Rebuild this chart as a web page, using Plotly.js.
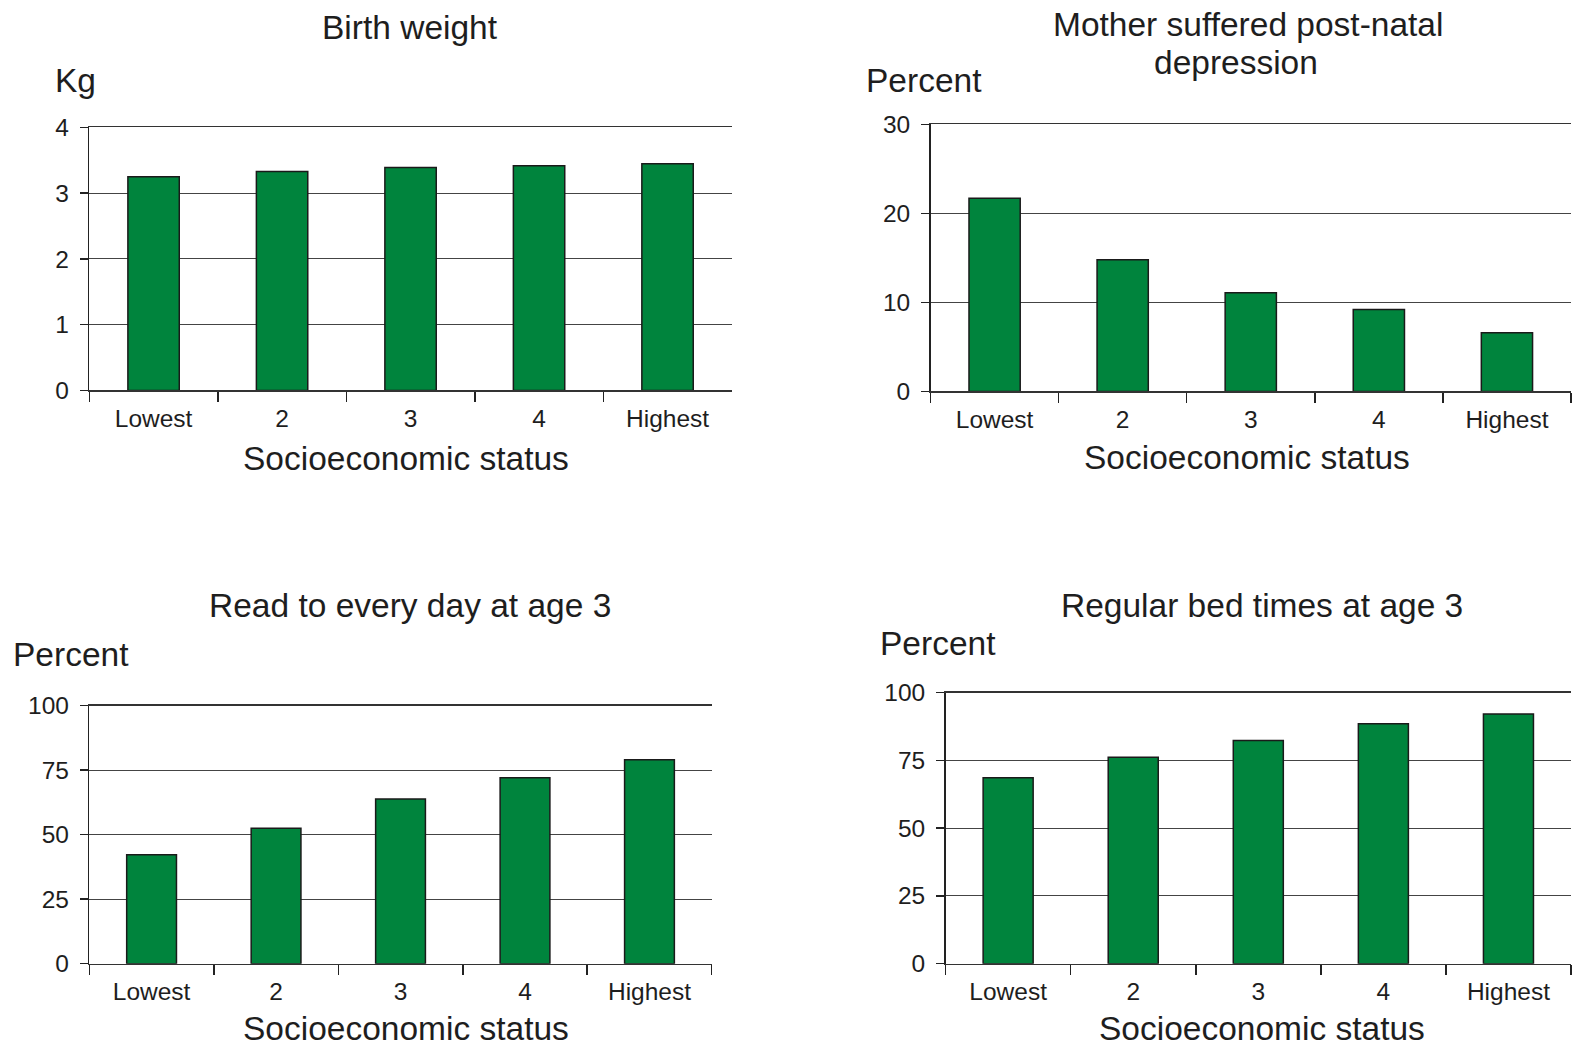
<!DOCTYPE html>
<html>
<head>
<meta charset="utf-8">
<script src="https://cdn.plot.ly/plotly-3.0.1.min.js"></script>
<style>
html,body{margin:0;padding:0;background:#fff;}
#chart{width:1574px;height:1046px;}
</style>
</head>
<body>
<div id="chart"></div>
<script>
// ---- data ----
const categories = ["Lowest", "2", "3", "4", "Highest"];
const birthWeightKg = [3.25, 3.33, 3.39, 3.42, 3.45];
const postNatalDepressionPct = [21.7, 14.8, 11.1, 9.2, 6.6];
const readToEveryDayPct = [42.2, 52.5, 63.8, 72.1, 79.0];
const regularBedTimesPct = [68.6, 76.2, 82.3, 88.5, 92.1];

const panelTitles = [["Birth weight"], ["Mother suffered post-natal", "depression"], ["Read to every day at age 3"], ["Regular bed times at age 3"]];
const yUnits = ["Kg", "Percent", "Percent", "Percent"];
const xTitle = "Socioeconomic status";
const yMax = [4, 30, 100, 100];
const yDtick = [1, 10, 25, 25];

// ---- layout geometry (pixels in 1574x1046) ----
const W = 1574, H = 1046, S = 1574 / 1568;
const px = v => v * S / W;
const py = v => 1 - v * S / H;

const boxes = [
  {x0: 89, x1: 729, yt: 127, yb: 389},
  {x0: 927, x1: 1565, yt: 124, yb: 390},
  {x0: 89, x1: 709, yt: 703, yb: 960},
  {x0: 942, x1: 1565, yt: 690, yb: 960}
];
const titlePos = [
  [{x: 408, y: 27}], [{x: 1243, y: 24}, {x: 1231, y: 62}], [{x: 408, y: 603}], [{x: 1257, y: 603}]
];
const unitPos = [
  {x: 53, y: 80}, {x: 861, y: 80}, {x: 11, y: 652}, {x: 875, y: 641}
];
const xTitlePos = [
  {x: 404, y: 457}, {x: 1242, y: 456}, {x: 404, y: 1025}, {x: 1257, y: 1025}
];

const series = [birthWeightKg, postNatalDepressionPct, readToEveryDayPct, regularBedTimesPct];
const FONT = "Liberation Sans, Arial, Helvetica, sans-serif";
const TXT = "#1e1e1e";
const GREEN = "#00843d";
const BIG = 33.5, TICK = 24.5;

const data = [];
const layout = {
  width: W, height: H,
  margin: {l: 0, r: 0, t: 0, b: 0},
  paper_bgcolor: "#fff", plot_bgcolor: "#fff",
  showlegend: false,
  font: {family: FONT, color: TXT},
  annotations: []
};

series.forEach((vals, i) => {
  const n = i + 1;
  const xa = n === 1 ? "x" : "x" + n;
  const ya = n === 1 ? "y" : "y" + n;
  data.push({
    type: "bar",
    x: categories, y: vals,
    xaxis: xa, yaxis: ya,
    width: 0.4,
    marker: {color: GREEN, line: {color: "#1a1a1a", width: 1.5}},
    hoverinfo: "x+y"
  });
  const b = boxes[i];
  layout["xaxis" + (n === 1 ? "" : n)] = {
    domain: [px(b.x0), px(b.x1)],
    anchor: ya,
    type: "category",
    showline: true, linecolor: "#333", linewidth: 1.3, mirror: true,
    ticks: "outside", tickson: "boundaries", ticklen: 10, tickcolor: "#222", tickwidth: 1.5,
    ticklabelstandoff: 6,
    tickfont: {family: FONT, size: TICK, color: TXT},
    showgrid: false, zeroline: false,
    fixedrange: true
  };
  layout["yaxis" + (n === 1 ? "" : n)] = {
    domain: [py(b.yb), py(b.yt)],
    anchor: xa,
    range: [0, yMax[i]],
    dtick: yDtick[i], tick0: 0,
    showline: true, linecolor: "#222", linewidth: 1.5,
    ticks: "outside", ticklen: 8, tickcolor: "#222", tickwidth: 1.5,
    ticklabelstandoff: 6,
    tickfont: {family: FONT, size: TICK, color: TXT},
    showgrid: true, gridcolor: "#444", gridwidth: 1,
    zeroline: false,
    fixedrange: true
  };
  panelTitles[i].forEach((line, k) => {
    layout.annotations.push({
      text: line, xref: "paper", yref: "paper",
      x: px(titlePos[i][k].x), y: py(titlePos[i][k].y), xanchor: "center", yanchor: "middle",
      showarrow: false, font: {family: FONT, size: BIG, color: TXT}
    });
  });
  layout.annotations.push({
    text: yUnits[i], xref: "paper", yref: "paper",
    x: px(unitPos[i].x), y: py(unitPos[i].y), xanchor: "left", yanchor: "middle",
    showarrow: false, font: {family: FONT, size: BIG, color: TXT}
  });
  layout.annotations.push({
    text: xTitle, xref: "paper", yref: "paper",
    x: px(xTitlePos[i].x), y: py(xTitlePos[i].y), xanchor: "center", yanchor: "middle",
    showarrow: false, font: {family: FONT, size: BIG, color: TXT}
  });
});

Plotly.newPlot("chart", data, layout, {displayModeBar: false, staticPlot: true});
</script>
</body>
</html>
